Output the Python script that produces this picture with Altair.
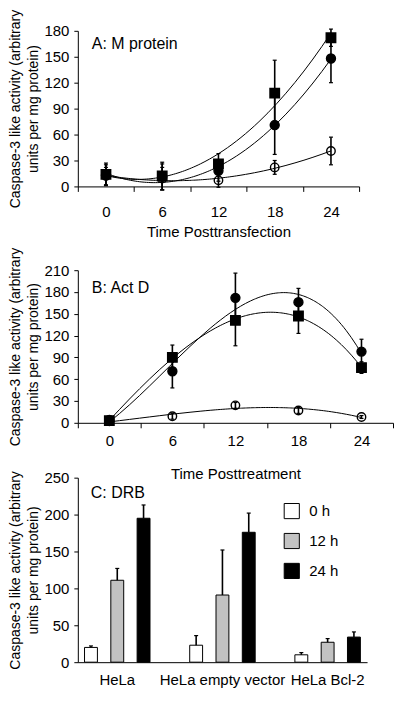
import altair as alt
import pandas as pd

FONT = "Liberation Sans"

# ---------------- data ----------------
times = [0, 6, 12, 18, 24]
time_labels = ["0", "6", "12", "18", "24"]
series = ["square", "filled circle", "open circle"]

a_square = [14, 12, 26, 108, 172]
a_square_err = [13, 16, 12, 38, 10]
a_filled = [13, 11, 18, 71, 148]
a_filled_err = [12, 15, 12, 34, 28]
a_open = [12, 9, 7, 22, 41]
a_open_err = [10, 13, 8, 8, 16]

b_square = [3, 90, 141, 147, 76]
b_square_err = [2, 17, 35, 24, 8]
b_filled = [4, 71, 172, 166, 98]
b_filled_err = [2, 23, 34, 19, 17]
b_open = [2, 9, 24, 17, 8]
b_open_err = [1, 4, 4, 4, 2]

c_groups = ["HeLa", "HeLa empty vector", "HeLa Bcl-2"]
c_times = ["0 h", "12 h", "24 h"]
c_values = [[20, 111, 195], [23, 91, 176], [10, 27, 34]]
c_errors = [[2, 16, 18], [13, 61, 26], [3, 5, 7]]

YTITLE = ["Caspase-3 like activity (arbitrary", "units per mg protein)"]


def long_df(vals, errs):
    rows = []
    for s, v, e in zip(series, vals, errs):
        for t, vv, ee in zip(times, v, e):
            rows.append({"series": s, "time": t, "value": vv, "err": ee,
                         "lo": vv - ee, "hi": vv + ee})
    return pd.DataFrame(rows)


def line_panel(vals, errs, width, height, extra, ymax, xtitle, label, label_y,
               lab_pad, title_pad, order):
    df = long_df(vals, errs)
    xs = alt.Scale(domain=[-3, 27], nice=False, zero=False)
    ys = alt.Scale(domain=[0, ymax], nice=False, zero=True, range=[height, 0])
    yaxis = alt.Axis(values=list(range(0, ymax + 1, 30)), title=YTITLE)
    X = alt.X("time:Q", scale=xs, axis=None)

    # category axis: ticks at band edges, labels centred on the time points
    lab_df = pd.DataFrame({"lab": time_labels})
    axis_layer = alt.Chart(lab_df).mark_point(opacity=0).encode(
        x=alt.X("lab:N", sort=time_labels,
                scale=alt.Scale(type="band", paddingInner=0, paddingOuter=0),
                axis=alt.Axis(title=xtitle, labelAngle=0, tickBand="extent",
                              tickSize=5, labelPadding=lab_pad,
                              titlePadding=title_pad, labelFlush=False,
                              offset=-extra)))

    base = alt.Chart(df)
    lines = base.transform_regression(
        "time", "value", groupby=["series"], method="poly", order=order,
        extent=[0, 24]
    ).mark_line(color="black", strokeWidth=1).encode(
        x=X, y=alt.Y("value:Q", scale=ys, axis=yaxis), detail="series:N")
    rules = base.mark_rule(color="black", strokeWidth=1.6).encode(
        x=X, y=alt.Y("lo:Q", scale=ys, axis=yaxis), y2="hi:Q")
    caps_hi = base.mark_tick(orient="horizontal", size=4, thickness=1.2,
                             color="black", opacity=1).encode(
        x=X, y=alt.Y("hi:Q", scale=ys, axis=yaxis))
    caps_lo = base.mark_tick(orient="horizontal", size=4, thickness=1.2,
                             color="black", opacity=1).encode(
        x=X, y=alt.Y("lo:Q", scale=ys, axis=yaxis))
    pts = base.mark_point(filled=True, stroke="black", strokeWidth=1.4,
                          opacity=1, fillOpacity=1).encode(
        x=X, y=alt.Y("value:Q", scale=ys, axis=yaxis),
        shape=alt.Shape("series:N", scale=alt.Scale(domain=series,
                        range=["square", "circle", "circle"]), legend=None),
        fill=alt.Fill("series:N", scale=alt.Scale(domain=series,
                      range=["black", "black", "transparent"]), legend=None),
        size=alt.Size("series:N", scale=alt.Scale(domain=series,
                      range=[90, 72, 64]), legend=None))
    txt = alt.Chart(pd.DataFrame({"t": [label]})).mark_text(
        align="left", baseline="alphabetic", fontSize=16, font=FONT,
        color="black").encode(text="t:N", x=alt.value(14), y=alt.value(label_y))
    data_layers = alt.layer(lines, rules, caps_hi, caps_lo, pts, txt)
    return alt.layer(axis_layer, data_layers).resolve_scale(
        x="independent").properties(width=width, height=height + extra)


chart_a = line_panel([a_square, a_filled, a_open],
                     [a_square_err, a_filled_err, a_open_err],
                     282, 156, 29, 180, "Time Posttransfection", "A: M protein",
                     18, 13, 5, 2)
chart_b = line_panel([b_square, b_filled, b_open],
                     [b_square_err, b_filled_err, b_open_err],
                     316, 153, 0, 210, "Time Posttreatment", "B: Act D", 23,
                     6, 18, 3)

rows = []
for g, vs, es in zip(c_groups, c_values, c_errors):
    for t, v, e in zip(c_times, vs, es):
        rows.append({"group": g, "time": t, "value": v, "hi": v + e})
dfc = pd.DataFrame(rows)

cx = alt.X("group:N", sort=c_groups,
           scale=alt.Scale(paddingInner=0.25, paddingOuter=0),
           axis=alt.Axis(title=None, labelAngle=0, tickSize=0, ticks=False,
                         labelPadding=10))
cxo = alt.XOffset("time:N", sort=c_times,
                  scale=alt.Scale(paddingInner=0.51, paddingOuter=0.255))
cys = alt.Scale(domain=[0, 250], nice=False)
cyaxis = alt.Axis(values=[0, 50, 100, 150, 200, 250], title=YTITLE)

basec = alt.Chart(dfc)
bars = basec.mark_bar(stroke="black", strokeWidth=1).encode(
    x=cx, xOffset=cxo, y=alt.Y("value:Q", scale=cys, axis=cyaxis),
    fill=alt.Fill("time:N", sort=c_times,
                  scale=alt.Scale(domain=c_times,
                                  range=["white", "#c2c2c2", "black"]),
                  legend=alt.Legend(title=None, orient="none", legendX=206,
                                    legendY=25, symbolType="square",
                                    symbolSize=230, symbolStrokeColor="black",
                                    symbolStrokeWidth=1, labelFontSize=15,
                                    labelFont=FONT, labelColor="black",
                                    rowPadding=9, labelOffset=9,
                                    padding=0)))
crules = basec.mark_rule(color="black", strokeWidth=1.6).encode(
    x=cx, xOffset=cxo, y=alt.Y("value:Q", scale=cys, axis=cyaxis), y2="hi:Q")
ccaps = basec.mark_tick(orient="horizontal", size=4, thickness=1.2,
                        color="black", opacity=1).encode(
    x=cx, xOffset=cxo, y=alt.Y("hi:Q", scale=cys, axis=cyaxis))
ctxt = alt.Chart(pd.DataFrame({"t": ["C: DRB"]})).mark_text(
    align="left", baseline="alphabetic", fontSize=16, font=FONT,
    color="black").encode(text="t:N", x=alt.value(13), y=alt.value(20))
chart_c = alt.layer(bars, crules, ccaps, ctxt).properties(width=290, height=185)

chart = alt.vconcat(chart_a, chart_b, chart_c, spacing=55,
                    bounds="flush").resolve_scale(
    fill="independent", shape="independent", size="independent"
).resolve_legend(
    fill="independent", shape="independent", size="independent"
).properties(
    padding=0
).configure_view(stroke=None).configure_axis(
    grid=False, domainColor="black", tickColor="black", labelColor="black",
    titleColor="black", labelFont=FONT, titleFont=FONT, labelFontSize=15,
    titleFontSize=15, titleFontWeight="normal", domainWidth=1, tickWidth=1
).configure_axisY(
    tickSize=4, labelPadding=5, titleFontSize=14, titlePadding=3,
    titleLineHeight=18
)

chart.save("out.html", embed_options={"renderer": "svg", "actions": False})
